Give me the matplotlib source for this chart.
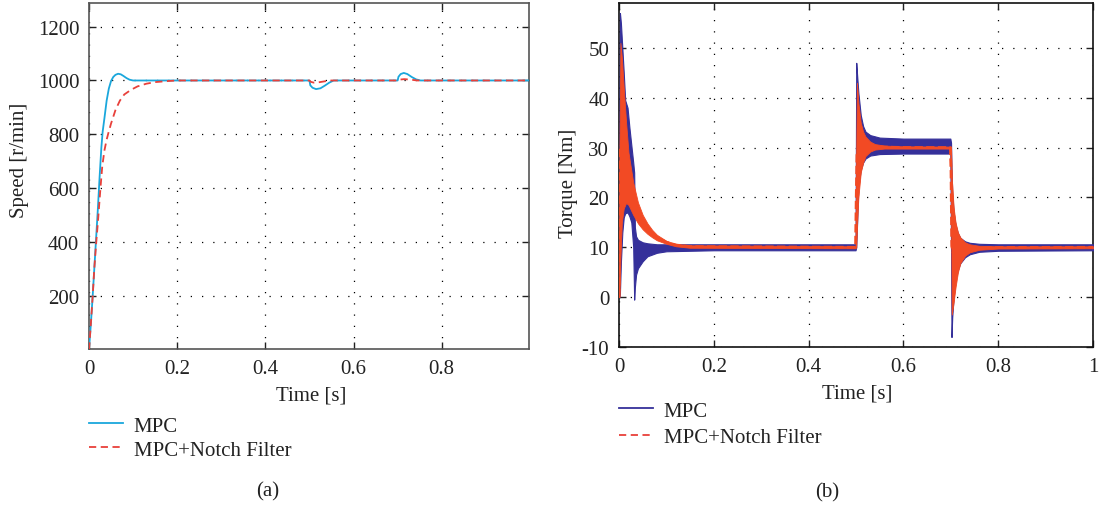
import numpy as np
import matplotlib.pyplot as plt
from matplotlib.lines import Line2D

plt.rcParams['font.family'] = ['Liberation Serif', 'DejaVu Serif']
plt.rcParams['font.size'] = 15
plt.rcParams['axes.unicode_minus'] = False

# speed response (a)
t_spd_mpc = [0, 0.004, 0.008, 0.012, 0.016, 0.02, 0.024, 0.028, 0.031, 0.035, 0.04, 0.045,
             0.05, 0.055, 0.06, 0.066, 0.072, 0.078, 0.085, 0.092, 0.1,
             0.5, 0.502, 0.507, 0.515, 0.525, 0.535, 0.545, 0.555,
             0.7, 0.702, 0.707, 0.714, 0.722, 0.732, 0.742, 0.752, 1.0]
spd_mpc = [0, 90, 190, 300, 410, 520, 640, 750, 810, 860, 925, 970,
           998, 1013, 1021, 1025, 1023, 1017, 1009, 1003, 1000,
           1000, 982, 973, 968, 971, 981, 992, 1000,
           1000, 1014, 1024, 1028, 1024, 1013, 1004, 1000, 1000]
t_spd_nf = [0, 0.004, 0.008, 0.012, 0.016, 0.02, 0.026, 0.03, 0.035, 0.04, 0.044, 0.05,
            0.06, 0.07, 0.08, 0.095, 0.11, 0.13, 0.15, 0.18, 0.2,
            0.5, 0.503, 0.51, 0.52, 0.535, 0.55,
            0.7, 0.703, 0.715, 0.73, 0.745, 1.0]
spd_nf = [0, 90, 190, 300, 390, 470, 600, 680, 740, 780, 805, 840,
          890, 925, 948, 965, 978, 988, 994, 998, 1000,
          1000, 995, 992, 993, 997, 1000,
          1000, 1003, 1005, 1003, 1000, 1000]

# torque envelopes (b)
t_trq_mpc = [0, 0.001, 0.002, 0.004, 0.007, 0.01, 0.013, 0.018, 0.022, 0.026,
             0.03, 0.032, 0.0335, 0.036, 0.04, 0.05, 0.06, 0.08, 0.1, 0.2,
             0.499, 0.5005, 0.502, 0.505, 0.51, 0.515, 0.52, 0.53, 0.55, 0.6,
             0.699, 0.7005, 0.7015, 0.703, 0.706, 0.71, 0.715, 0.72, 0.73, 0.74,
             0.76, 0.8, 1.0]
trq_mpc_hi = [0, 35, 57, 55, 50, 45, 39.5, 38, 34, 30.5,
              27, 25, 14, 12.2, 11.5, 11, 10.8, 10.6, 10.6, 10.6,
              10.6, 47, 45, 41, 36.5, 34.3, 33.2, 32.5, 32, 31.8,
              31.8, 31, 26, 21, 17, 14.5, 12.8, 11.9, 11.2, 10.9,
              10.7, 10.6, 10.6]
trq_mpc_lo = [0, 0, 1, 7, 13, 16, 16.8, 17, 16.2, 15,
              10, -0.5, 2, 4.5, 5.8, 7.2, 8.2, 8.9, 9.2, 9.4,
              9.4, 10, 14, 22, 25.5, 27, 27.8, 28.4, 28.7, 28.8,
              28.8, 10, -8, -4, 0, 3.5, 5.5, 6.8, 8, 8.6,
              9.1, 9.3, 9.4]

t_trq_nf = [0, 0.001, 0.003, 0.006, 0.01, 0.015, 0.02, 0.03, 0.04, 0.05,
            0.06, 0.07, 0.08, 0.1, 0.12, 0.15, 0.499, 0.5005, 0.502, 0.505,
            0.51, 0.515, 0.52, 0.53, 0.54, 0.56, 0.6, 0.699, 0.7005, 0.702,
            0.706, 0.71, 0.715, 0.72, 0.73, 0.74, 0.76, 0.8, 1.0]
trq_nf_hi = [0, 30, 51, 48, 42, 35, 29, 23, 19, 16.5,
             14.8, 13.5, 12.5, 11.3, 10.7, 10.4, 10.2, 30, 43, 39,
             35, 33.2, 32.2, 31.2, 30.7, 30.4, 30.25, 30.2, 30.2, 24,
             18, 15, 13, 12, 11, 10.6, 10.3, 10.2, 10.2]
trq_nf_lo = [0, 0, 8, 15, 17.8, 18.9, 18.5, 16.5, 14.8, 13.6,
             12.7, 12, 11.4, 10.7, 10.2, 9.9, 9.8, 10, 14, 20,
             25, 27, 28.3, 29.2, 29.6, 29.8, 29.8, 29.8, 20, -3.5,
             -1, 2, 5, 6.8, 8.3, 9, 9.5, 9.75, 9.8]

labels = ['MPC', 'MPC+Notch Filter']
c_cyan = '#1aa7dc'
c_red = '#e8403a'
c_navy = '#35309a'
c_orange = '#f24a24'

fig = plt.figure(figsize=(11.01, 5.06), dpi=100)
ax1 = fig.add_axes([89 / 1101, 1 - 350 / 506, 440 / 1101, 346 / 506])
ax2 = fig.add_axes([619 / 1101, 1 - 348 / 506, 474 / 1101, 344 / 506])

grid_kw = dict(color='black', linestyle=(0, (1, 8)), linewidth=0.9)

# (a) speed
ax1.plot(t_spd_mpc, spd_mpc, color=c_cyan, lw=1.3, zorder=3)
ax1.plot(t_spd_nf, spd_nf, color=c_red, lw=1.3, ls=(0, (4, 2.5)), zorder=4)
ax1.set_xlim(0, 0.998)
ax1.set_ylim(2, 1288)
ax1.set_xticks([0, 0.2, 0.4, 0.6, 0.8])
ax1.set_xticklabels(['0', '0.2', '0.4', '0.6', '0.8'])
ax1.set_yticks([200, 400, 600, 800, 1000, 1200])
ax1.grid(True, **grid_kw)
for s in ax1.spines.values():
    s.set_color('#555555')
    s.set_linewidth(1.2)

# (b) torque
ax2.fill_between(t_trq_mpc, trq_mpc_lo, trq_mpc_hi, color=c_navy, lw=0.8, edgecolor=c_navy, zorder=3)
ax2.fill_between(t_trq_nf, trq_nf_lo, trq_nf_hi, color=c_orange, lw=0.6, edgecolor=c_orange, zorder=4)
mid_nf = (np.array(trq_nf_hi) + np.array(trq_nf_lo)) / 2
ax2.plot(t_trq_nf, mid_nf, color=c_orange, lw=2, ls=(0, (3, 1.2)), zorder=5)
ax2.set_xlim(0, 1)
ax2.set_ylim(-10, 59)
ax2.set_xticks([0, 0.2, 0.4, 0.6, 0.8, 1])
ax2.set_xticklabels(['0', '0.2', '0.4', '0.6', '0.8', '1'])
ax2.set_yticks([-10, 0, 10, 20, 30, 40, 50])
ax2.grid(True, **grid_kw)
for s in ax2.spines.values():
    s.set_color('#111111')
    s.set_linewidth(1.2)

for ax in (ax1, ax2):
    ax.set_axisbelow(True)
    ax.tick_params(direction='in', top=True, right=True, length=5, width=1,
                   pad=7, labelsize=15, colors='#222222')

# axis labels and captions
fig.text(20 / 1101, 1 - 160 / 506, 'Speed [r/min]', rotation=90, ha='center', va='center', color='#222222')
fig.text(568 / 1101, 1 - 183 / 506, 'Torque [Nm]', rotation=90, ha='center', va='center', color='#222222')
fig.text(311 / 1101, 1 - 396 / 506, 'Time [s]', ha='center', va='center', color='#222222')
fig.text(857 / 1101, 1 - 394 / 506, 'Time [s]', ha='center', va='center', color='#222222')
fig.text(268 / 1101, 1 - 492 / 506, '(a)', ha='center', va='center', color='#222222')
fig.text(827 / 1101, 1 - 493 / 506, '(b)', ha='center', va='center', color='#222222')

# legends
h_a = [Line2D([], [], color=c_cyan, lw=1.3),
       Line2D([], [], color=c_red, lw=1.3, ls=(0, (4, 2.5)))]
h_b = [Line2D([], [], color=c_navy, lw=1.3),
       Line2D([], [], color=c_red, lw=1.3, ls=(0, (4, 2.5)))]
fig.legend(h_a, labels, loc='upper left', bbox_to_anchor=(89 / 1101, 1 - 417 / 506),
           frameon=False, borderpad=0, borderaxespad=0, handlelength=1.65,
           handletextpad=0.5, labelspacing=0.22, labelcolor='#222222')
fig.legend(h_b, labels, loc='upper left', bbox_to_anchor=(619 / 1101, 1 - 402 / 506),
           frameon=False, borderpad=0, borderaxespad=0, handlelength=1.65,
           handletextpad=0.5, labelspacing=0.32, labelcolor='#222222')

fig.savefig('out.png', dpi=100)
